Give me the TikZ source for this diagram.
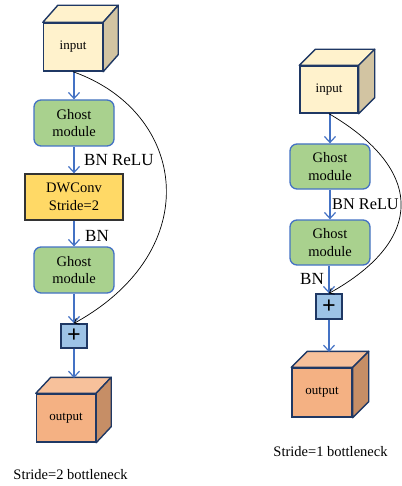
\documentclass[tikz,border=0pt]{standalone}
\usepackage{fontspec}
\setmainfont{Liberation Serif}
\usetikzlibrary{arrows.meta}

\definecolor{ghostgreen}{HTML}{A9D18E}
\definecolor{ghostblue}{HTML}{4472C4}
\definecolor{convyellow}{HTML}{FFD966}
\definecolor{addblue}{HTML}{9DC3E6}
\definecolor{navy}{HTML}{1F3864}
\definecolor{infront}{HTML}{FFF2CC}
\definecolor{inside}{HTML}{D2C4A2}
\definecolor{outfront}{HTML}{F4B183}
\definecolor{outtop}{HTML}{F7C19B}
\definecolor{outside}{HTML}{C68E66}

\tikzset{
	ghost/.style={shape=rectangle, rounded corners=7pt, draw=ghostblue, line width=1.3pt,
		fill=ghostgreen, minimum width=80pt, minimum height=46pt, align=center,
		font=\fontsize{14.5}{17.5}\selectfont},
	dwconv/.style={shape=rectangle, draw=black!80, line width=1.3pt, fill=convyellow,
		minimum width=98pt, minimum height=46pt, align=center,
		font=\fontsize{14.5}{17.5}\selectfont},
	addbox/.style={shape=rectangle, draw=navy, line width=1.3pt, fill=addblue,
		minimum width=26pt, minimum height=24pt, inner sep=0pt,
		font=\fontsize{24}{24}\bfseries},
	cubefront/.style={shape=rectangle, draw=navy, line width=1.4pt,
		minimum width=59pt, minimum height=48pt, inner sep=0pt,
		font=\fontsize{13}{15}\selectfont},
	cubeface/.style={draw=navy, line width=1.4pt, line join=round},
	flow/.style={color=ghostblue, line width=1.2pt, -{Straight Barb[length=6pt,width=11pt]}},
	skip/.style={color=black, line width=0.7pt, -{Straight Barb[length=4pt,width=7pt]}},
	lbl/.style={font=\fontsize{17}{17}\selectfont, inner sep=0pt},
	caption/.style={font=\fontsize{14.5}{17}\selectfont, inner sep=0pt}
}

\begin{document}
\begin{tikzpicture}[x=1pt, y=-1pt]
	\useasboundingbox (0,0) rectangle (401,486);

	% stride = 2
	\node[cubefront, fill=infront]  (in2)   at (73,47)   {input};
	\draw[cubeface, fill=infront] (in2.north west) -- ++(15,-17) -- ([shift={(15,-17)}]in2.north east) -- (in2.north east) -- cycle;
	\draw[cubeface, fill=inside] (in2.north east) -- ++(15,-17) -- ([shift={(15,-17)}]in2.south east) -- (in2.south east) -- cycle;
	\node[ghost]                    (gm21)  at (74,123)  {Ghost\\module};
	\node[dwconv]                   (dw2)   at (74,197)  {DWConv\\Stride=2};
	\node[ghost]                    (gm22)  at (74,270)  {Ghost\\module};
	\node[addbox]                   (add2)  at (74,336)  {+};
	\node[cubefront, fill=outfront] (out2)  at (66,418)  {output};
	\draw[cubeface, fill=outtop] (out2.north west) -- ++(15,-16) -- ([shift={(15,-16)}]out2.north east) -- (out2.north east) -- cycle;
	\draw[cubeface, fill=outside] (out2.north east) -- ++(15,-16) -- ([shift={(15,-16)}]out2.south east) -- (out2.south east) -- cycle;
	\coordinate (top2) at (74,378);

	\path (gm21.north |- in2.south) edge[flow] (gm21.north);
	\path (gm21) edge[flow] (dw2);
	\path (dw2) edge[flow] (gm22);
	\path (gm22) edge[flow] (add2);
	\path (add2) edge[flow] (top2);
	\draw [skip] (in2.south) .. controls (187,112) and (207,250) .. (add2.north);

	\node[lbl, anchor=west] (br2) at (84,160) {BN ReLU};
	\node[lbl, anchor=west] (bn2) at (85,236) {BN};
	\node[caption] (cap2) at (70.5,475) {Stride=2 bottleneck};

	% stride = 1
	\node[cubefront, fill=infront, minimum width=58pt, minimum height=47pt] (in1) at (329,89.5) {input};
	\draw[cubeface, fill=infront] (in1.north west) -- ++(16,-16) -- ([shift={(16,-16)}]in1.north east) -- (in1.north east) -- cycle;
	\draw[cubeface, fill=inside] (in1.north east) -- ++(16,-16) -- ([shift={(16,-16)}]in1.south east) -- (in1.south east) -- cycle;
	\node[ghost, minimum height=45pt] (gm11) at (330,166.5) {Ghost\\module};
	\node[ghost, minimum height=45pt] (gm12) at (330,242.5) {Ghost\\module};
	\node[addbox, minimum height=25pt] (add1) at (329,306.5) {+};
	\node[cubefront, fill=outfront, minimum width=60pt, minimum height=49pt] (out1) at (322,392.5) {output};
	\draw[cubeface, fill=outtop] (out1.north west) -- ++(16,-16) -- ([shift={(16,-16)}]out1.north east) -- (out1.north east) -- cycle;
	\draw[cubeface, fill=outside] (out1.north east) -- ++(16,-16) -- ([shift={(16,-16)}]out1.south east) -- (out1.south east) -- cycle;
	\coordinate (top1) at (329,352);

	\path (gm11.north |- in1.south) edge[flow] (gm11.north);
	\path (gm11) edge[flow] (gm12);
	\path (gm12.south -| add1) edge[flow] (add1);
	\path (add1) edge[flow] (top1);
	\draw [skip] (in1.south) .. controls (425,170) and (425,240) .. (add1.north);

	\node[lbl, anchor=west, font=\fontsize{16.3}{17}\selectfont] (br1) at (332,204) {BN ReLU};
	\node[lbl, anchor=east] (bn1) at (324,279) {BN};
	\node[caption] (cap1) at (330.5,452) {Stride=1 bottleneck};
\end{tikzpicture}
\end{document}
